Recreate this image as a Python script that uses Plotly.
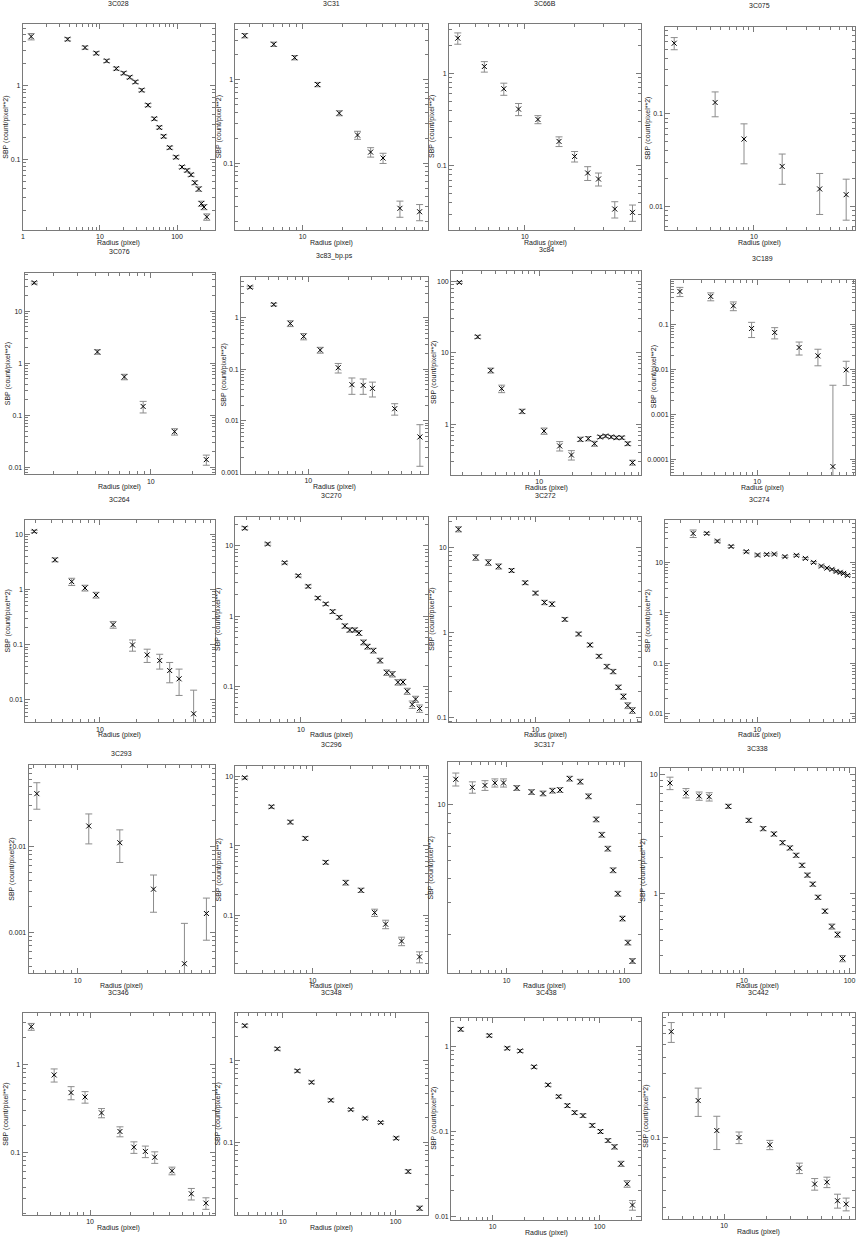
import math
import plotly.graph_objects as go

# ---------------- data ----------------
names = ["3C028", "3C31", "3C66B", "3C075", "3C076", "3c83_bp.ps", "3c84", "3C189",
         "3C264", "3C270", "3C272", "3C274", "3C293", "3C296", "3C317", "3C338",
         "3C346", "3C348", "3C438", "3C442"]

r_3c028 = [1.28, 3.8, 6.4, 8.95, 12.2, 16.3, 20.3, 24.3, 28.8, 34.8, 42.0, 50.7, 58.9, 67.1,
           80.4, 97.0, 116, 135, 152, 170, 191, 207, 224, 243]
sbp_3c028 = [4.71, 4.33, 3.33, 2.79, 2.19, 1.72, 1.49, 1.31, 1.13, 0.873, 0.545, 0.355, 0.270,
             0.204, 0.143, 0.106, 0.0778, 0.070, 0.061, 0.0475, 0.039, 0.0246, 0.0221, 0.0162]
rel_3c028 = [0.10, 0.05, 0.05, 0.05, 0.05, 0.05, 0.05, 0.05, 0.05, 0.05, 0.05, 0.05, 0.05, 0.05,
             0.05, 0.05, 0.05, 0.05, 0.05, 0.06, 0.07, 0.08, 0.08, 0.10]

r_3c31 = [3.67, 6.06, 8.71, 12.96, 18.9, 25.9, 32.5, 40.3, 54.0, 75.9]
sbp_3c31 = [3.40, 2.68, 1.85, 0.879, 0.398, 0.217, 0.1355, 0.115, 0.0286, 0.026]
rel_3c31 = [0.06, 0.06, 0.06, 0.06, 0.07, 0.11, 0.13, 0.14, 0.22, 0.22]

r_3c66b = [3.93, 5.69, 7.46, 9.16, 12.0, 16.1, 20.0, 24.0, 27.9, 35.0, 44.8]
sbp_3c66b = [2.39, 1.18, 0.678, 0.409, 0.316, 0.183, 0.126, 0.0834, 0.0718, 0.034, 0.0313]
rel_3c66b = [0.14, 0.13, 0.15, 0.15, 0.10, 0.12, 0.13, 0.17, 0.16, 0.20, 0.20]

r_3c075 = [1.87, 4.42, 8.11, 18.1, 39.8, 69.5]
sbp_3c075 = [0.579, 0.1325, 0.0533, 0.027, 0.0154, 0.01336]
rel_3c075 = [0.15, 0.30, 0.46, 0.36, 0.47, 0.47]

r_3c076 = [1.46, 4.14, 6.46, 8.81, 14.8, 25.0]
sbp_3c076 = [34.8, 1.65, 0.548, 0.1486, 0.0488, 0.01422]
rel_3c076 = [0.05, 0.10, 0.12, 0.25, 0.14, 0.22]

r_3c83 = [3.65, 5.50, 7.33, 9.23, 12.3, 16.8, 21.3, 25.9, 30.4, 44.7, 69.2]
sbp_3c83 = [3.92, 1.81, 0.777, 0.435, 0.237, 0.1077, 0.0505, 0.049, 0.0429, 0.0173, 0.0049]
rel_3c83 = [0.05, 0.06, 0.13, 0.14, 0.13, 0.21, 0.35, 0.33, 0.32, 0.25, 0.73]

r_3c84 = [1.87, 2.75, 3.62, 4.55, 7.0, 11.1, 15.4, 19.7, 23.8, 28.1, 32.0, 36.1, 40.4, 45.5,
          50.8, 56.9, 64.4, 71.1]
sbp_3c84 = [96, 16.7, 5.66, 3.15, 1.52, 0.807, 0.499, 0.373, 0.618, 0.631, 0.537, 0.666, 0.687,
            0.666, 0.651, 0.651, 0.537, 0.292]
rel_3c84 = [0.03, 0.05, 0.08, 0.12, 0.07, 0.10, 0.15, 0.15, 0.07, 0.07, 0.08, 0.05, 0.05, 0.05,
            0.05, 0.05, 0.06, 0.08]

r_3c189 = [1.87, 3.65, 5.96, 8.85, 14.6, 24.8, 37.3, 51.6, 68.8]
sbp_3c189 = [0.532, 0.412, 0.255, 0.080, 0.0653, 0.0303, 0.0198, 0.0000687, 0.00966]
rel_3c189 = [0.23, 0.20, 0.22, 0.37, 0.28, 0.32, 0.40, 63.0, 0.55]

r_3c264 = [2.92, 4.31, 5.89, 7.55, 9.29, 12.8, 18.4, 24.2, 30.6, 36.9, 44.0, 57.8]
sbp_3c264 = [11.2, 3.43, 1.38, 1.06, 0.79, 0.23, 0.0986, 0.065, 0.0514, 0.0339, 0.024, 0.00558]
rel_3c264 = [0.05, 0.08, 0.15, 0.12, 0.12, 0.14, 0.23, 0.27, 0.30, 0.40, 0.50, 1.68]

r_3c270 = [3.87, 5.70, 7.59, 9.56, 11.3, 13.3, 15.2, 17.1, 19.1, 21.0, 22.8, 24.8, 26.7, 28.8,
           30.8, 34.0, 38.1, 42.6, 46.9, 51.5, 56.1, 60.3, 65.6, 69.4, 74.3]
sbp_3c270 = [17.8, 10.6, 5.74, 3.75, 2.65, 1.81, 1.49, 1.16, 0.962, 0.725, 0.636, 0.636, 0.577,
             0.425, 0.369, 0.324, 0.234, 0.158, 0.15, 0.115, 0.116, 0.0859, 0.0556, 0.0661, 0.0488]
rel_3c270 = [0.05, 0.04, 0.04, 0.04, 0.05, 0.05, 0.05, 0.06, 0.06, 0.07, 0.07, 0.07, 0.08, 0.08,
             0.08, 0.08, 0.08, 0.09, 0.09, 0.09, 0.09, 0.10, 0.12, 0.10, 0.12]

r_3c272 = [2.08, 2.96, 3.82, 4.72, 6.14, 8.11, 10.0, 12.0, 14.0, 18.2, 24.1, 30.4, 36.5, 42.9,
           48.7, 54.3, 60.1, 65.7, 72.2]
sbp_3c272 = [16.4, 7.63, 6.66, 5.98, 5.36, 3.84, 2.90, 2.25, 2.15, 1.42, 0.955, 0.710, 0.522,
             0.395, 0.345, 0.225, 0.175, 0.137, 0.12]
rel_3c272 = [0.07, 0.08, 0.08, 0.07, 0.05, 0.05, 0.05, 0.06, 0.06, 0.05, 0.05, 0.05, 0.05, 0.06,
             0.06, 0.06, 0.07, 0.08, 0.08]

r_3c274 = [2.60, 3.46, 4.33, 5.77, 7.94, 10.07, 12.2, 14.3, 17.9, 22.8, 27.5, 32.7, 38.5, 43.3,
           48.1, 52.6, 57.2, 61.4, 66.7]
sbp_3c274 = [37.5, 37.5, 26.4, 20.7, 16.3, 14.0, 14.4, 14.6, 13.0, 13.8, 12.0, 10.0, 8.46, 7.73,
             7.27, 6.64, 6.34, 6.05, 5.53]
rel_3c274 = [0.17, 0.05, 0.05, 0.05, 0.05, 0.05, 0.04, 0.04, 0.04, 0.04, 0.04, 0.04, 0.04, 0.04,
             0.04, 0.04, 0.04, 0.04, 0.04]

r_3c293 = [5.25, 11.9, 19.4, 33.0, 53.7, 75.9]
sbp_3c293 = [0.0408, 0.0172, 0.0110, 0.00318, 0.000434, 0.00166]
rel_3c293 = [0.34, 0.38, 0.41, 0.46, 1.94, 0.51]

r_3c296 = [2.90, 4.72, 6.67, 8.75, 12.7, 18.3, 24.2, 31.0, 37.9, 50.7, 70.3]
sbp_3c296 = [9.57, 3.66, 2.20, 1.28, 0.579, 0.295, 0.229, 0.109, 0.0743, 0.0423, 0.0251]
rel_3c296 = [0.04, 0.05, 0.06, 0.06, 0.06, 0.08, 0.07, 0.12, 0.14, 0.14, 0.18]

r_3c317 = [3.71, 5.13, 6.56, 7.96, 9.43, 12.2, 16.3, 20.4, 24.5, 28.4, 34.3, 42.2, 49.6, 57.6,
           64.3, 72.3, 80.2, 87.9, 96.2, 107, 117]
sbp_3c317 = [13.7, 12.4, 12.7, 13.1, 13.1, 12.3, 11.7, 11.5, 11.9, 12.0, 13.8, 13.3, 11.1, 8.34,
             6.90, 5.81, 4.45, 3.33, 2.45, 1.82, 1.45]
rel_3c317 = [0.08, 0.07, 0.06, 0.05, 0.05, 0.03, 0.03, 0.03, 0.03, 0.03, 0.03, 0.03, 0.03, 0.03,
             0.03, 0.03, 0.03, 0.03, 0.03, 0.03, 0.03]

r_3c338 = [1.99, 2.82, 3.76, 4.68, 7.11, 11.1, 15.2, 19.2, 23.2, 27.2, 31.2, 35.5, 39.9, 44.8,
           50.3, 58.5, 68.1, 77.0, 85.9]
sbp_3c338 = [8.51, 7.01, 6.62, 6.53, 5.42, 4.13, 3.52, 3.17, 2.68, 2.42, 2.10, 1.73, 1.43, 1.20,
             0.931, 0.711, 0.528, 0.452, 0.284]
rel_3c338 = [0.12, 0.09, 0.08, 0.08, 0.04, 0.04, 0.04, 0.04, 0.04, 0.04, 0.04, 0.04, 0.04, 0.04,
             0.04, 0.04, 0.05, 0.05, 0.06]

r_3c346 = [3.61, 5.37, 7.20, 9.17, 12.2, 16.8, 21.4, 26.1, 30.7, 41.4, 57.9, 74.6]
sbp_3c346 = [2.68, 0.757, 0.476, 0.425, 0.280, 0.172, 0.114, 0.102, 0.0877, 0.0614, 0.0336, 0.0263]
rel_3c346 = [0.09, 0.17, 0.17, 0.15, 0.12, 0.13, 0.15, 0.15, 0.15, 0.10, 0.15, 0.15]

r_3c348 = [4.62, 8.97, 13.5, 18.0, 26.7, 40.1, 53.6, 73.7, 101, 129, 163]
sbp_3c348 = [2.72, 1.41, 0.754, 0.547, 0.328, 0.252, 0.197, 0.1745, 0.112, 0.0436, 0.0154]
rel_3c348 = [0.04, 0.04, 0.04, 0.04, 0.04, 0.03, 0.03, 0.03, 0.04, 0.05, 0.06]

r_3c438 = [5.03, 9.31, 13.7, 18.1, 24.4, 33.0, 41.5, 50.0, 58.5, 70.0, 85.5, 102, 120, 138, 159,
           181, 203]
sbp_3c438 = [1.60, 1.35, 0.956, 0.889, 0.577, 0.354, 0.258, 0.202, 0.167, 0.154, 0.118, 0.1,
             0.0783, 0.066, 0.0417, 0.0242, 0.0136]
rel_3c438 = [0.05, 0.04, 0.04, 0.04, 0.04, 0.04, 0.04, 0.05, 0.05, 0.05, 0.05, 0.05, 0.05, 0.06,
             0.07, 0.09, 0.13]

r_3c442 = [4.18, 6.52, 8.87, 12.8, 21.3, 34.7, 44.7, 54.7, 65.2, 75.2]
sbp_3c442 = [0.624, 0.1895, 0.1128, 0.1, 0.0881, 0.0589, 0.0447, 0.0462, 0.0335, 0.0316]
rel_3c442 = [0.17, 0.24, 0.28, 0.10, 0.08, 0.09, 0.10, 0.09, 0.12, 0.11]

radii = [r_3c028, r_3c31, r_3c66b, r_3c075, r_3c076, r_3c83, r_3c84, r_3c189, r_3c264, r_3c270,
         r_3c272, r_3c274, r_3c293, r_3c296, r_3c317, r_3c338, r_3c346, r_3c348, r_3c438, r_3c442]
sbps = [sbp_3c028, sbp_3c31, sbp_3c66b, sbp_3c075, sbp_3c076, sbp_3c83, sbp_3c84, sbp_3c189,
        sbp_3c264, sbp_3c270, sbp_3c272, sbp_3c274, sbp_3c293, sbp_3c296, sbp_3c317, sbp_3c338,
        sbp_3c346, sbp_3c348, sbp_3c438, sbp_3c442]
rels = [rel_3c028, rel_3c31, rel_3c66b, rel_3c075, rel_3c076, rel_3c83, rel_3c84, rel_3c189,
        rel_3c264, rel_3c270, rel_3c272, rel_3c274, rel_3c293, rel_3c296, rel_3c317, rel_3c338,
        rel_3c346, rel_3c348, rel_3c438, rel_3c442]

# ---------------- layout (pixel frames, log10 axis ranges) ----------------
W, H = 856, 1238
# left, right, top, bottom (px)
frames = [
    (21, 213.3, 24, 230), (234.3, 427.7, 24, 230), (448.7, 641.3, 24, 230), (665.7, 855.5, 27.3, 230),
    (22.7, 213.3, 273.3, 475), (240, 427.7, 277.3, 474.3), (450.7, 641.3, 271, 475.7), (671.3, 855.5, 280, 475.7),
    (23.3, 213.3, 521, 723.3), (234.3, 427.7, 517.7, 723.3), (448.7, 641.3, 517.7, 723.3), (665.7, 855.5, 521, 723.3),
    (26.7, 213.3, 766, 975), (234.3, 427.7, 767.7, 975), (447.3, 641.3, 763.3, 975), (660.3, 855.5, 769.3, 975),
    (20.7, 213.3, 1015, 1216.7), (234.3, 427.7, 1015, 1216.7), (450.7, 641.3, 1019.3, 1221.7), (663, 855.5, 1015, 1220.7),
]
xranges = [
    (0, 2.487), (0.495, 1.945), (0.542, 1.703), (0.191, 1.918),
    (0.095, 1.457), (0.495, 1.9025), (0.197, 1.930), (0.1875, 1.916),
    (0.392, 1.932), (0.5195, 1.934), (0.235, 1.935), (0.161, 1.888),
    (0.664, 1.936), (0.389, 1.916), (0.501, 2.141), (0.204, 2.047),
    (0.4925, 1.9375), (0.582, 2.288), (0.612, 2.388), (0.5595, 1.936),
]
yranges = [
    (-1.964, 0.845), (-1.8, 0.672), (-1.691, 0.532), (-2.252, -0.065),
    (-2.127, 1.732), (-3.019, 0.794), (-0.707, 2.149), (-4.348, -0.01),
    (-2.404, 1.253), (-1.506, 1.411), (-1.059, 1.361), (-2.165, 1.837),
    (-3.475, -1.054), (-1.839, 1.144), (0.0946, 1.229), (-0.672, 1.056),
    (-1.712, 0.580), (-1.893, 0.586), (-2.039, 0.341), (-1.61, -0.0675),
]
title_y = [4, 4, 4, 6, 252, 256, 250, 259, 500, 496, 496, 500, 755, 746, 746, 750, 994, 994, 994, 994]

FONT = "Liberation Sans, Arial, sans-serif"
FRAME = "#7a7a7a"
TEXT = "#222222"


def fmt(e):
    v = 10.0 ** e
    if e >= 0:
        return str(int(round(v)))
    return ("%." + str(-e) + "f") % v


def ticks_for(rng):
    lo, hi = rng
    majors, minors = [], []
    for e in range(math.floor(lo) - 1, math.ceil(hi) + 1):
        if lo - 1e-9 <= e <= hi + 1e-9:
            majors.append(e)
        for m in range(2, 10):
            lv = e + math.log10(m)
            if lo <= lv <= hi:
                minors.append(m * 10.0 ** e)
    return [10.0 ** e for e in majors], [fmt(e) for e in majors], minors


fig = go.Figure()
annotations = []
for i in range(len(names)):
    k = "" if i == 0 else str(i + 1)
    left, right, top, bottom = frames[i]
    err = [a * b for a, b in zip(sbps[i], rels[i])]
    fig.add_trace(go.Scatter(
        x=radii[i], y=sbps[i], mode="markers", xaxis="x" + k, yaxis="y" + k,
        marker=dict(symbol="x-thin", size=5, color="black", line=dict(width=1, color="black")),
        error_y=dict(type="data", array=err, color="#8c8c8c", thickness=1, width=3.5),
        showlegend=False, hoverinfo="x+y"))

    common = dict(type="log", showline=True, linecolor=FRAME, linewidth=1, mirror="allticks",
                  ticks="inside", ticklen=5, tickwidth=1, tickcolor=FRAME, showgrid=False,
                  zeroline=False, tickfont=dict(size=7, family=FONT, color=TEXT))
    xv, xt, xm = ticks_for(xranges[i])
    yv, yt, ym = ticks_for(yranges[i])
    fig.layout["xaxis" + k] = dict(
        domain=[left / W, right / W], anchor="y" + k, range=list(xranges[i]),
        tickmode="array", tickvals=xv, ticktext=xt,
        minor=dict(tickmode="array", tickvals=xm, ticks="inside", ticklen=3, tickcolor=FRAME, showgrid=False),
        **common)
    fig.layout["yaxis" + k] = dict(
        domain=[1 - bottom / H, 1 - top / H], anchor="x" + k, range=list(yranges[i]),
        tickmode="array", tickvals=yv, ticktext=yt,
        minor=dict(tickmode="array", tickvals=ym, ticks="inside", ticklen=3, tickcolor=FRAME, showgrid=False),
        **common)

    cx = (left + right) / 2
    annotations.append(dict(text=names[i], x=cx / W, y=1 - title_y[i] / H, xref="paper", yref="paper",
                            showarrow=False, xanchor="center", yanchor="middle",
                            font=dict(size=7, family=FONT, color=TEXT)))
    annotations.append(dict(text="Radius (pixel)", x=cx / W, y=1 - (bottom + 13) / H, xref="paper",
                            yref="paper", showarrow=False, xanchor="center", yanchor="middle",
                            font=dict(size=7, family=FONT, color=TEXT)))
    annotations.append(dict(text="SBP (count/pixel**2)", x=(left - 17) / W, y=1 - (top + bottom) / 2 / H,
                            xref="paper", yref="paper", showarrow=False, textangle=-90,
                            xanchor="center", yanchor="middle",
                            font=dict(size=7, family=FONT, color=TEXT)))

fig.update_layout(width=W, height=H, margin=dict(l=0, r=0, t=0, b=0),
                  paper_bgcolor="white", plot_bgcolor="white", annotations=annotations,
                  showlegend=False)
fig.write_html("out.html", config={"displayModeBar": False},
               post_script="document.body.style.margin='0';document.body.style.padding='0';"
                           "document.body.style.overflow='hidden';"
                           "document.documentElement.style.overflow='hidden';")
